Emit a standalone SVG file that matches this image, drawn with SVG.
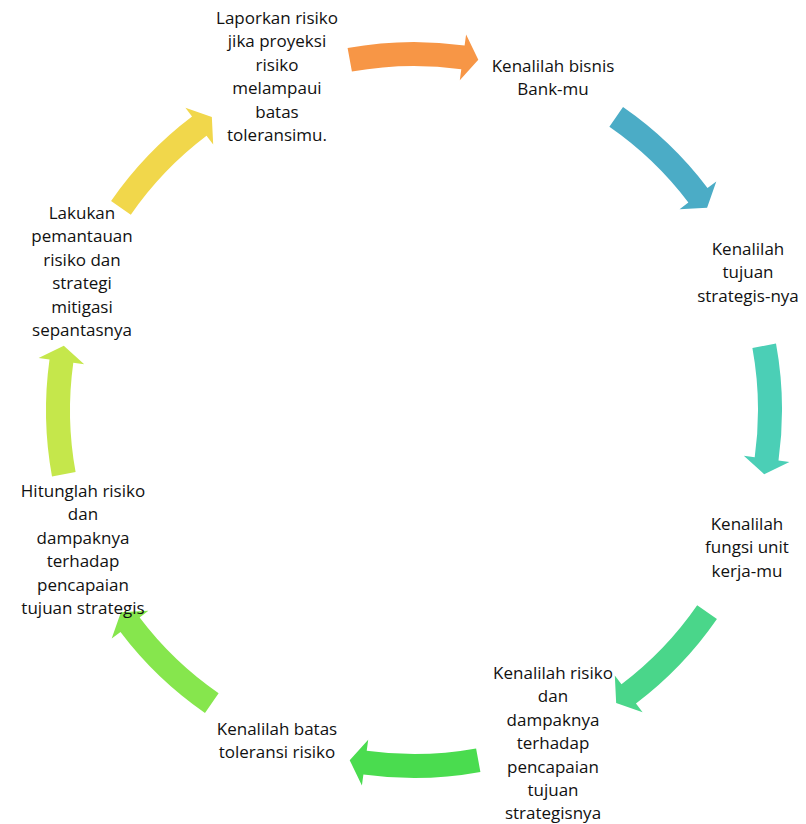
<svg xmlns="http://www.w3.org/2000/svg" xmlns:xlink="http://www.w3.org/1999/xlink" width="806" height="824" viewBox="0 0 806 824">
<style>
.t{font-family:"Open Sans","Noto Sans","Liberation Sans",sans-serif;font-size:17px;fill:#111;text-anchor:middle}
</style>
<defs>
<path id="arrow" d="M -66.4,-362 A 368 368 0 0 1 50.6,-364.5 L 52.1,-375.4 L 64.3,-350.2 L 45.8,-329.8 L 47.3,-340.7 A 344 344 0 0 0 -62.1,-338.4 Z"/>
</defs>
<rect width="806" height="824" fill="#fff"/>
<g id="connectors" transform="translate(414,410)">
<use xlink:href="#arrow" href="#arrow" fill="#F79646"/>
<use xlink:href="#arrow" href="#arrow" transform="rotate(45)" fill="#4BACC6"/>
<use xlink:href="#arrow" href="#arrow" transform="rotate(90)" fill="#4BCFB6"/>
<use xlink:href="#arrow" href="#arrow" transform="rotate(135)" fill="#4AD68A"/>
<use xlink:href="#arrow" href="#arrow" transform="rotate(180)" fill="#4ADC4F"/>
<use xlink:href="#arrow" href="#arrow" transform="rotate(225)" fill="#86E64D"/>
<use xlink:href="#arrow" href="#arrow" transform="rotate(270)" fill="#C5E74B"/>
<use xlink:href="#arrow" href="#arrow" transform="rotate(315)" fill="#F1D74B"/>
</g>
<g id="node1"><text class="t" y="24"><tspan x="277">Laporkan risiko</tspan><tspan x="277" dy="23.4">jika proyeksi</tspan><tspan x="277" dy="23.4">risiko</tspan><tspan x="277" dy="23.4">melampaui</tspan><tspan x="277" dy="23.4">batas</tspan><tspan x="277" dy="23.4">toleransimu.</tspan></text></g>
<g id="node2"><text class="t" y="72"><tspan x="553">Kenalilah bisnis</tspan><tspan x="553" dy="23.4">Bank-mu</tspan></text></g>
<g id="node3"><text class="t" y="255"><tspan x="748">Kenalilah</tspan><tspan x="748" dy="23.4">tujuan</tspan><tspan x="748" dy="23.4">strategis-nya</tspan></text></g>
<g id="node4"><text class="t" y="530"><tspan x="747">Kenalilah</tspan><tspan x="747" dy="23.4">fungsi unit</tspan><tspan x="747" dy="23.4">kerja-mu</tspan></text></g>
<g id="node5"><text class="t" y="679"><tspan x="553">Kenalilah risiko</tspan><tspan x="553" dy="23.4">dan</tspan><tspan x="553" dy="23.4">dampaknya</tspan><tspan x="553" dy="23.4">terhadap</tspan><tspan x="553" dy="23.4">pencapaian</tspan><tspan x="553" dy="23.4">tujuan</tspan><tspan x="553" dy="23.4">strategisnya</tspan></text></g>
<g id="node6"><text class="t" y="735"><tspan x="277">Kenalilah batas</tspan><tspan x="277" dy="23.4">toleransi risiko</tspan></text></g>
<g id="node7"><text class="t" y="497"><tspan x="83">Hitunglah risiko</tspan><tspan x="83" dy="23.4">dan</tspan><tspan x="83" dy="23.4">dampaknya</tspan><tspan x="83" dy="23.4">terhadap</tspan><tspan x="83" dy="23.4">pencapaian</tspan><tspan x="83" dy="23.4">tujuan strategis</tspan></text></g>
<g id="node8"><text class="t" y="219"><tspan x="82">Lakukan</tspan><tspan x="82" dy="23.4">pemantauan</tspan><tspan x="82" dy="23.4">risiko dan</tspan><tspan x="82" dy="23.4">strategi</tspan><tspan x="82" dy="23.4">mitigasi</tspan><tspan x="82" dy="23.4">sepantasnya</tspan></text></g>
</svg>
